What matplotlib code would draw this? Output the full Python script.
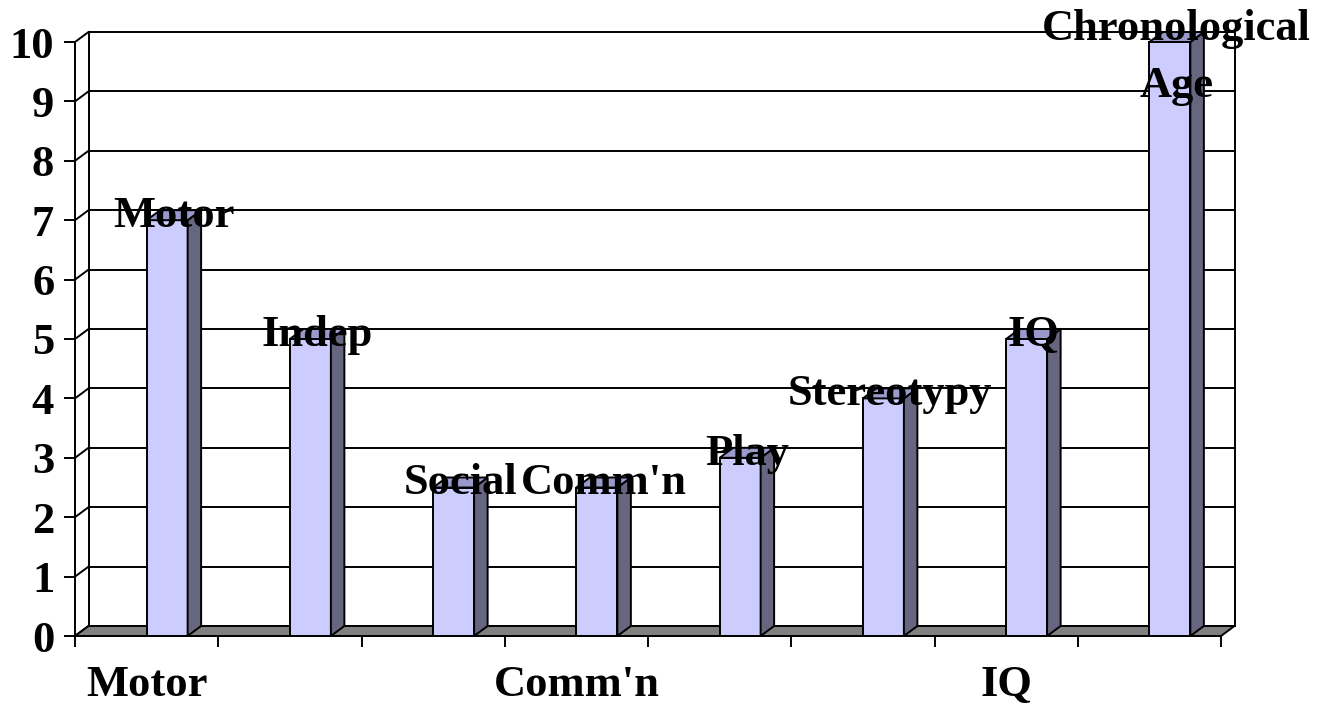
import matplotlib
matplotlib.use("Agg")
import matplotlib.pyplot as plt
from matplotlib.patches import Polygon, Rectangle

# Scores per domain
categories = ["Motor", "Indep", "Social", "Comm'n", "Play", "Stereotypy", "IQ",
              "Chronological\nAge"]
values = [7, 5, 2.5, 2.5, 3, 4, 5, 10]
axis_labels = ["Motor", "Comm'n", "IQ"]
axis_label_slots = [0, 3, 6]
y_ticks = list(range(0, 11))

FONT = dict(family="Liberation Serif", weight="bold")
FRONT = "#ccccff"
SIDE = "#666680"
TOP = "#9999cc"
FLOOR = "#808080"

W_PX, H_PX = 1317, 708
fig = plt.figure(figsize=(W_PX / 100, H_PX / 100), dpi=100)
fig.patch.set_facecolor("white")

left_px, right_px, bottom_px, top_px = 75, 1221, 636, 42
ax = fig.add_axes([left_px / W_PX, (H_PX - bottom_px) / H_PX,
                   (right_px - left_px) / W_PX, (bottom_px - top_px) / H_PX])
n = len(categories)
ax.set_xlim(0, n)
ax.set_ylim(0, 10)
ax.set_facecolor("none")

# depth offset of the 3-D box, in data units
px_x = (right_px - left_px) / n
px_y = (bottom_px - top_px) / 10
DX = 13.5 / px_x
DY = 10.0 / px_y
bar_w = 41 / px_x
LW = 1.4

# back wall: gridlines, edges and the short diagonals on the left side wall
for v in y_ticks:
    ax.plot([DX, n + DX], [v + DY, v + DY], color="black", lw=LW,
            clip_on=False, zorder=1)
    ax.plot([0, DX], [v, v + DY], color="black", lw=LW, clip_on=False, zorder=1)
ax.plot([DX, DX], [DY, 10 + DY], color="black", lw=LW, clip_on=False, zorder=1)
ax.plot([n + DX, n + DX], [DY, 10 + DY], color="black", lw=LW,
        clip_on=False, zorder=1)

# floor
ax.add_patch(Polygon([(0, 0), (n, 0), (n + DX, DY), (DX, DY)], closed=True,
                     facecolor=FLOOR, edgecolor="black", lw=LW,
                     clip_on=False, zorder=2))

# bars
for i, v in enumerate(values):
    x0 = i + 0.5
    ax.add_patch(Rectangle((x0, 0), bar_w, v, facecolor=FRONT,
                           edgecolor="black", lw=LW, clip_on=False, zorder=3))
    ax.add_patch(Polygon([(x0 + bar_w, 0), (x0 + bar_w + DX, DY),
                          (x0 + bar_w + DX, v + DY), (x0 + bar_w, v)],
                         closed=True, facecolor=SIDE, edgecolor="black", lw=LW,
                         clip_on=False, zorder=3))
    ax.add_patch(Polygon([(x0, v), (x0 + bar_w, v), (x0 + bar_w + DX, v + DY),
                          (x0 + DX, v + DY)],
                         closed=True, facecolor=TOP, edgecolor="black", lw=LW,
                         clip_on=False, zorder=3))

# data labels above each bar
labels = []
for i, (name, v) in enumerate(zip(categories, values)):
    x0 = i + 0.5
    t = ax.annotate(name, xy=(x0 + (bar_w + DX) / 2, v + DY / 2),
                    xytext=(0, -12), textcoords="offset pixels",
                    ha="center", va="baseline", multialignment="center",
                    fontsize=32, linespacing=1.55, zorder=5,
                    annotation_clip=False, **FONT)
    labels.append(t)

# spines and ticks
for s in ["top", "right"]:
    ax.spines[s].set_visible(False)
for s in ["left", "bottom"]:
    ax.spines[s].set_linewidth(LW)
    ax.spines[s].set_zorder(4)

ax.set_yticks(y_ticks)
ax.set_yticklabels([str(t) for t in y_ticks], fontsize=32, **FONT)
ax.set_xticks(range(n + 1))
ax.set_xticklabels([])
ax.set_xticks([s + 0.5 for s in axis_label_slots], minor=True)
ax.set_xticklabels(axis_labels, minor=True, fontsize=32, **FONT)
ax.tick_params(axis="both", which="major", direction="out", length=8,
               width=LW, color="black")
ax.tick_params(axis="y", pad=7)
ax.tick_params(axis="x", which="minor", length=0, pad=21)

# keep wrapped labels inside the figure
fig.canvas.draw()
renderer = fig.canvas.get_renderer()
for t in labels:
    bb = t.get_window_extent(renderer)
    excess = bb.y1 - (H_PX - 9)
    if excess > 0:
        ox, oy = t.xyann
        t.xyann = (ox, oy - excess)

fig.savefig("out.png", dpi=100, facecolor="white")
